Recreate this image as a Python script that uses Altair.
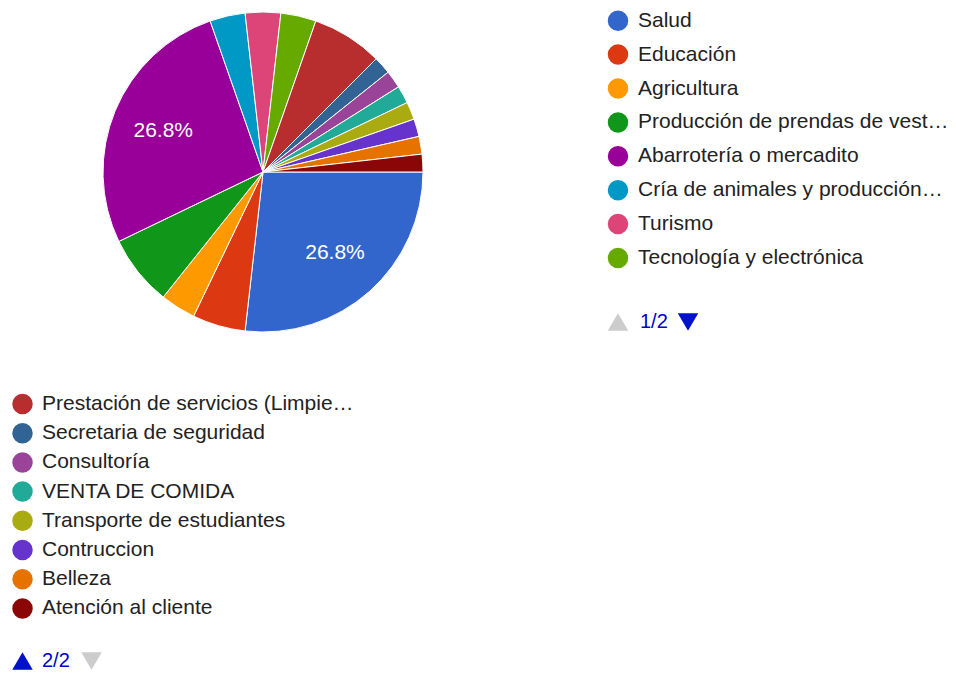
import math
import altair as alt
import pandas as pd

categories = [
    "Salud", "Educación", "Agricultura", "Producción de prendas de vest…",
    "Abarrotería o mercadito", "Cría de animales y producción…", "Turismo",
    "Tecnología y electrónica", "Prestación de servicios (Limpie…",
    "Secretaria de seguridad", "Consultoría", "VENTA DE COMIDA",
    "Transporte de estudiantes", "Contruccion", "Belleza", "Atención al cliente",
]
counts = [15, 3, 2, 4, 15, 2, 2, 2, 4, 1, 1, 1, 1, 1, 1, 1]
colors = [
    "#3366cc", "#dc3912", "#ff9900", "#109618", "#990099", "#0099c6", "#dd4477",
    "#66aa00", "#b82e2e", "#316395", "#994499", "#22aa99", "#aaaa11", "#6633cc",
    "#e67300", "#8b0707",
]
page_labels = ["1/2", "2/2"]
PAGE_SIZE = 8

total = sum(counts)
df = pd.DataFrame({
    "category": categories,
    "count": counts,
    "idx": list(range(len(categories))),
})
df["page"] = df["idx"] // PAGE_SIZE + 1
df["row"] = df["idx"] % PAGE_SIZE
df["label"] = [f"{c / total * 100:.1f}%" if c / total >= 0.1 else "" for c in counts]

FONT = "Arial, 'Liberation Sans', sans-serif"

color = alt.Color("category:N", scale=alt.Scale(domain=categories, range=colors), legend=None)
theta = alt.Theta("count:Q", stack=True,
                  scale=alt.Scale(range=[math.pi / 2, math.pi / 2 + 2 * math.pi]))
order = alt.Order("idx:Q", sort="ascending")

base = alt.Chart(df)

pie = base.mark_arc(radius=160, stroke="white", strokeWidth=1).encode(
    theta=theta, color=color, order=order, x=alt.value(255), y=alt.value(164)
)
slice_text = base.mark_text(radius=108, fontSize=21, fill="white", font=FONT).encode(
    theta=theta, text="label:N", order=order, x=alt.value(255), y=alt.value(164)
)

# legend page 1 (right of pie)
y1 = alt.Y("row:Q", scale=alt.Scale(domain=[0, 7], range=[12.7, 250]), axis=None)
leg1 = base.transform_filter("datum.page == 1")
leg1_dots = leg1.mark_point(shape="circle", filled=True, opacity=1, size=420).encode(
    x=alt.value(610), y=y1, color=color
)
leg1_text = leg1.mark_text(align="left", baseline="middle", fontSize=21, font=FONT,
                           color="#222222").encode(x=alt.value(630), y=y1, text="category:N")

# legend page 2 (below pie)
y2 = alt.Y("row:Q", scale=alt.Scale(domain=[0, 7], range=[396, 600.4]), axis=None)
leg2 = base.transform_filter("datum.page == 2")
leg2_dots = leg2.mark_point(shape="circle", filled=True, opacity=1, size=420).encode(
    x=alt.value(14.5), y=y2, color=color
)
leg2_text = leg2.mark_text(align="left", baseline="middle", fontSize=21, font=FONT,
                           color="#222222").encode(x=alt.value(34), y=y2, text="category:N")

# pagers
pdf1 = pd.DataFrame({"label": [page_labels[0]]})
pdf2 = pd.DataFrame({"label": [page_labels[1]]})
p1_up = alt.Chart(pdf1).mark_point(shape="triangle-up", filled=True, opacity=1, size=420,
                                  color="#cccccc").encode(x=alt.value(610), y=alt.value(314))
p1_txt = alt.Chart(pdf1).mark_text(align="left", baseline="middle", fontSize=20, font=FONT,
                                  color="#0000cc").encode(x=alt.value(632), y=alt.value(314),
                                                          text="label:N")
p1_dn = alt.Chart(pdf1).mark_point(shape="triangle-down", filled=True, opacity=1, size=420,
                                  color="#0011cc").encode(x=alt.value(680), y=alt.value(314))
p2_up = alt.Chart(pdf2).mark_point(shape="triangle-up", filled=True, opacity=1, size=420,
                                  color="#0011cc").encode(x=alt.value(14.5), y=alt.value(653))
p2_txt = alt.Chart(pdf2).mark_text(align="left", baseline="middle", fontSize=20, font=FONT,
                                  color="#0000cc").encode(x=alt.value(34), y=alt.value(653),
                                                          text="label:N")
p2_dn = alt.Chart(pdf2).mark_point(shape="triangle-down", filled=True, opacity=1, size=420,
                                  color="#cccccc").encode(x=alt.value(83.5), y=alt.value(653))

chart = alt.layer(
    pie, slice_text, leg1_dots, leg1_text, leg2_dots, leg2_text,
    p1_up, p1_txt, p1_dn, p2_up, p2_txt, p2_dn,
).resolve_scale(y="independent").properties(
    width=940, height=665, autosize=alt.AutoSizeParams(type="none"), padding=0
).configure_view(stroke=None)

chart.save("out.html", embed_options={"renderer": "svg", "actions": False})
